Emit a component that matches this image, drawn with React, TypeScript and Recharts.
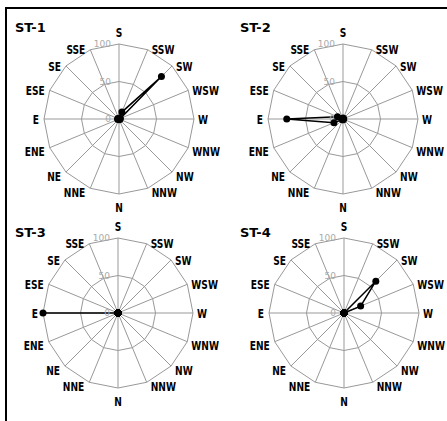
import { RadarChart, Radar, PolarGrid, PolarAngleAxis, PolarRadiusAxis } from 'recharts'

const DIRECTIONS = ['S', 'SSW', 'SW', 'WSW', 'W', 'WNW', 'NW', 'NNW', 'N', 'NNE', 'NE', 'ENE', 'E', 'ESE', 'SE', 'SSE']
const RADIUS_TICKS = [0, 50, 100]

// percentages per direction
const ST1 = [1, 10, 80, 2, 1, 1, 0, 0, 1, 0, 0, 1, 2, 1, 0, 1]
const ST2 = [1, 1, 0, 0, 1, 0, 0, 0, 1, 1, 1, 13, 75, 8, 1, 1]
const ST3 = [0, 0, 0, 0, 0, 0, 0, 0, 0, 0, 0, 0, 100, 0, 0, 0]
const ST4 = [0, 0, 60, 24, 0, 0, 0, 0, 0, 0, 0, 0, 0, 0, 0, 0]

const STATION_NAMES = ['ST-1', 'ST-2', 'ST-3', 'ST-4']
const STATION_VALUES = [ST1, ST2, ST3, ST4]

const FONT = '"DejaVu Sans", sans-serif'
const R = 75
const GRID = '#999'
const SQUEEZE = 0.7

function AngleTick({ x0, y0, index, payload }: any) {
  const deg = 90 - index * 22.5
  const rad = (deg * Math.PI) / 180
  const c = Math.cos(rad)
  const s = Math.sin(rad)
  let x = x0
  let y = y0
  let anchor: 'start' | 'middle' | 'end' = 'middle'
  if (Math.abs(c) < 0.01) {
    y = s > 0 ? y0 - R - 12 : y0 + R + 13
  } else {
    x = x0 + R * c + (c > 0 ? 4 : -5)
    y = y0 - R * s + (s < -0.01 ? 4 : 0)
    anchor = c > 0 ? 'start' : 'end'
  }
  // condensed look: squeeze the glyphs horizontally around the anchor
  return (
    <text
      transform={`translate(${x},${y}) scale(${SQUEEZE},1)`}
      x={0}
      y={0}
      dy="0.36em"
      textAnchor={anchor}
      fontSize={13}
      fontWeight="bold"
      fontFamily={FONT}
      fill="#000"
    >
      {payload.value}
    </text>
  )
}

function RadiusTick({ x, y, payload }: any) {
  return (
    <text x={x - 8} y={y} dy="0.35em" textAnchor="end" fontSize={9} fontFamily={FONT} fill="#aaa">
      {payload.value}
    </text>
  )
}

function BlackDot(p: any) {
  if (p.cx == null || p.cy == null) return <g />
  return <circle cx={p.cx} cy={p.cy} r={3.5} fill="#000" stroke="none" />
}

function WindRose({ name, values, left, top, cx, cy }: any) {
  const data = DIRECTIONS.map((d, i) => ({ dir: d, v: values[i] }))
  return (
    <div style={{ position: 'absolute', left, top, width: 230, height: 216 }}>
      <div
        style={{
          position: 'absolute',
          left: left === 0 ? 15 : 17,
          top: 20,
          fontFamily: FONT,
          fontSize: 13,
          fontWeight: 'bold',
          lineHeight: '16px',
        }}
      >
        {name}
      </div>
      <RadarChart
        width={230}
        height={216}
        data={data}
        cx={cx}
        cy={cy}
        outerRadius={R}
        startAngle={90}
        endAngle={-270}
        margin={{ top: 0, right: 0, bottom: 0, left: 0 }}
      >
        <PolarGrid gridType="polygon" stroke={GRID} />
        <PolarAngleAxis
          dataKey="dir"
          tickLine={false}
          axisLine={false}
          tick={(p: any) => <AngleTick {...p} x0={cx} y0={cy} />}
        />
        <PolarRadiusAxis
          angle={90}
          domain={[0, 100]}
          ticks={RADIUS_TICKS as any}
          axisLine={false}
          tickLine={false}
          tick={(p: any) => <RadiusTick {...p} />}
        />
        <Radar
          dataKey="v"
          stroke="#000"
          strokeWidth={1.5}
          fill="none"
          fillOpacity={0}
          dot={(p: any) => <BlackDot key={`d${p.index}`} {...p} />}
          isAnimationActive={false}
        />
      </RadarChart>
    </div>
  )
}

export default function App() {
  return (
    <div style={{ position: 'absolute', left: 0, top: 0, width: 447, height: 421, overflow: 'hidden', background: '#fff' }}>
      <div style={{ position: 'absolute', left: 5, top: 7, width: 500, height: 500, border: '2px solid #000' }} />
      <WindRose name={STATION_NAMES[0]} values={STATION_VALUES[0]} left={0} top={0} cx={119} cy={119} />
      <WindRose name={STATION_NAMES[1]} values={STATION_VALUES[1]} left={223} top={0} cx={120} cy={119} />
      <WindRose name={STATION_NAMES[2]} values={STATION_VALUES[2]} left={0} top={205} cx={118} cy={108} />
      <WindRose name={STATION_NAMES[3]} values={STATION_VALUES[3]} left={223} top={205} cx={121} cy={108} />
    </div>
  )
}
